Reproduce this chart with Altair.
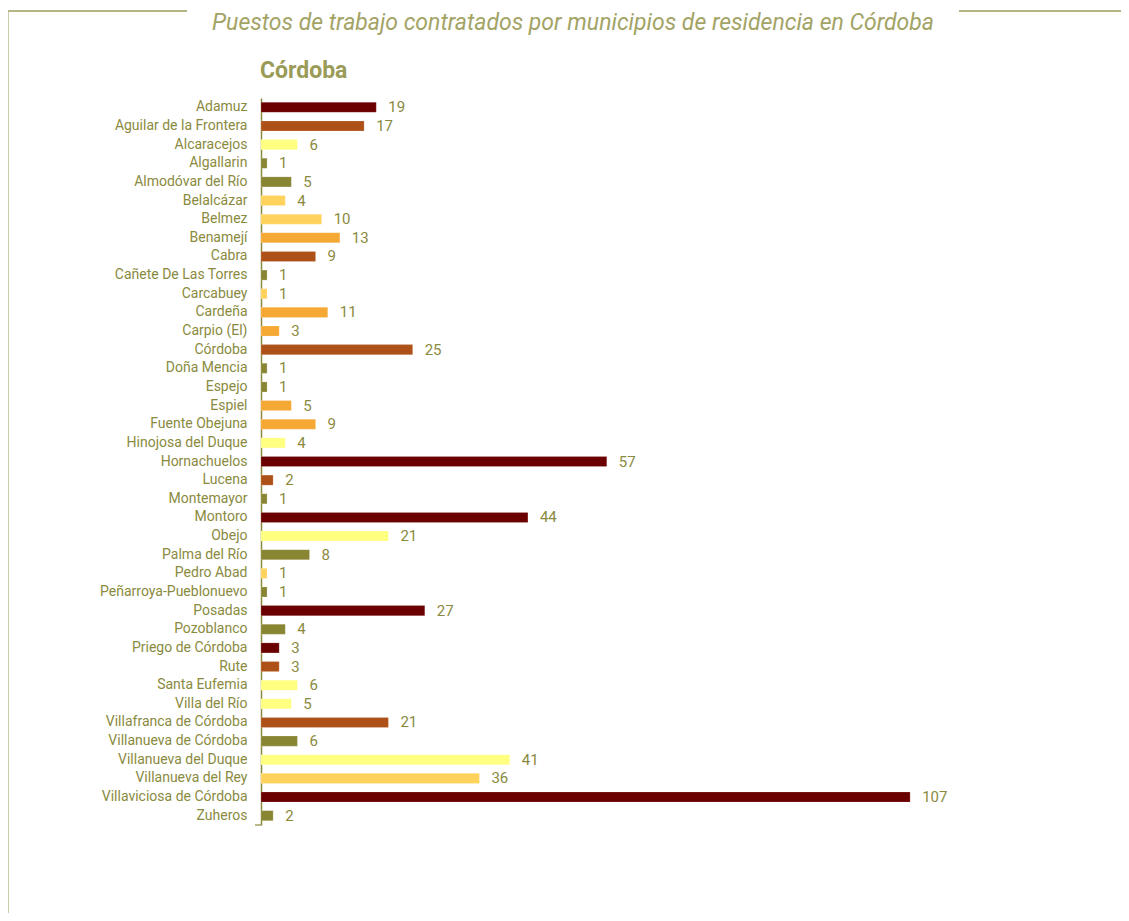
import altair as alt
import pandas as pd

municipios = ["Adamuz", "Aguilar de la Frontera", "Alcaracejos", "Algallarin", "Almodóvar del Río",
              "Belalcázar", "Belmez", "Benamejí", "Cabra", "Cañete De Las Torres", "Carcabuey",
              "Cardeña", "Carpio (El)", "Córdoba", "Doña Mencia", "Espejo", "Espiel", "Fuente Obejuna",
              "Hinojosa del Duque", "Hornachuelos", "Lucena", "Montemayor", "Montoro", "Obejo",
              "Palma del Río", "Pedro Abad", "Peñarroya-Pueblonuevo", "Posadas", "Pozoblanco",
              "Priego de Córdoba", "Rute", "Santa Eufemia", "Villa del Río", "Villafranca de Córdoba",
              "Villanueva de Córdoba", "Villanueva del Duque", "Villanueva del Rey",
              "Villaviciosa de Córdoba", "Zuheros"]
valores = [19, 17, 6, 1, 5, 4, 10, 13, 9, 1, 1, 11, 3, 25, 1, 1, 5, 9, 4, 57, 2, 1, 44, 21, 8, 1, 1,
           27, 4, 3, 3, 6, 5, 21, 6, 41, 36, 107, 2]
grupos = ["granate", "marron", "amarillo", "oliva", "oliva", "oro", "oro", "naranja", "marron",
          "oliva", "oro", "naranja", "naranja", "marron", "oliva", "oliva", "naranja", "naranja",
          "amarillo", "granate", "marron", "oliva", "granate", "amarillo", "oliva", "oro", "oliva",
          "granate", "oliva", "granate", "marron", "amarillo", "amarillo", "marron", "oliva",
          "amarillo", "oro", "granate", "oliva"]
grupo_dom = ["granate", "marron", "amarillo", "oliva", "oro", "naranja"]
grupo_col = ["#6A0000", "#AE5118", "#FFFF80", "#888533", "#FFD35B", "#F5A833"]

titulo = "Puestos de trabajo contratados por municipios de residencia en Córdoba"
subtitulo = "Córdoba"

FONT = "Roboto, sans-serif"
TXT = "#8A8A3E"
TITC = "#A3A366"

df = pd.DataFrame({"m": municipios, "v": valores, "g": grupos})

W, H = 728, 727

y_enc = alt.Y("m:N", sort=None,
              scale=alt.Scale(paddingInner=0.46, paddingOuter=0.23),
              axis=alt.Axis(title=None, labelFont=FONT, labelFontSize=14, labelColor=TXT,
                            labelPadding=14, ticks=False, domainColor="#8A8A3E", domainWidth=1.5,
                            labelLimit=300))
x_enc = alt.X("v:Q", scale=alt.Scale(domain=[0, 120]), axis=None)

base = alt.Chart(df)
bars = base.mark_bar(stroke="#ffffff", strokeWidth=0.3, strokeOpacity=0.6).encode(
    x=x_enc, y=y_enc,
    color=alt.Color("g:N", scale=alt.Scale(domain=grupo_dom, range=grupo_col), legend=None),
)
labels = base.mark_text(align="left", baseline="middle", dx=12, font=FONT, fontSize=15,
                        color=TXT).encode(x=x_enc, y=alt.Y("m:N", sort=None), text="v:Q")

one = pd.DataFrame({"t": [titulo]})
frame_l = alt.Chart(one).mark_rule(color="#9E9E5C", strokeWidth=1.5).encode(
    x=alt.value(-253), x2=alt.value(-74), y=alt.value(-87))
frame_r = alt.Chart(one).mark_rule(color="#9E9E5C", strokeWidth=1.5).encode(
    x=alt.value(698), x2=alt.value(860), y=alt.value(-87))
frame_v = alt.Chart(one).mark_rule(color="#BDBD90", strokeWidth=1.5).encode(
    x=alt.value(-253), y=alt.value(-87), y2=alt.value(815))
axis_tick = alt.Chart(one).mark_rule(color="#8A8A3E", strokeWidth=1.2).encode(
    x=alt.value(-6), x2=alt.value(0), y=alt.value(H))
title_t = alt.Chart(one).mark_text(font=FONT, fontSize=23, fontStyle="italic", color=TITC,
                                   align="center", baseline="middle").encode(
    x=alt.value(312), y=alt.value(-75), text="t:N")
sub_t = alt.Chart(pd.DataFrame({"t": [subtitulo]})).mark_text(
    font=FONT, fontSize=23, fontWeight="bold", color="#9B9B58", align="left",
    baseline="middle").encode(x=alt.value(-1), y=alt.value(-27), text="t:N")

chart = alt.layer(bars, labels, frame_l, frame_r, frame_v, axis_tick, title_t, sub_t).properties(
    width=W, height=H,
    background="white",
    autosize=alt.AutoSizeParams(type="none"),
    padding={"left": 253, "top": 90, "right": 132, "bottom": 88},
).configure_view(strokeWidth=0, stroke="transparent")

chart.save("out.html", embed_options={"renderer": "svg", "actions": False})
